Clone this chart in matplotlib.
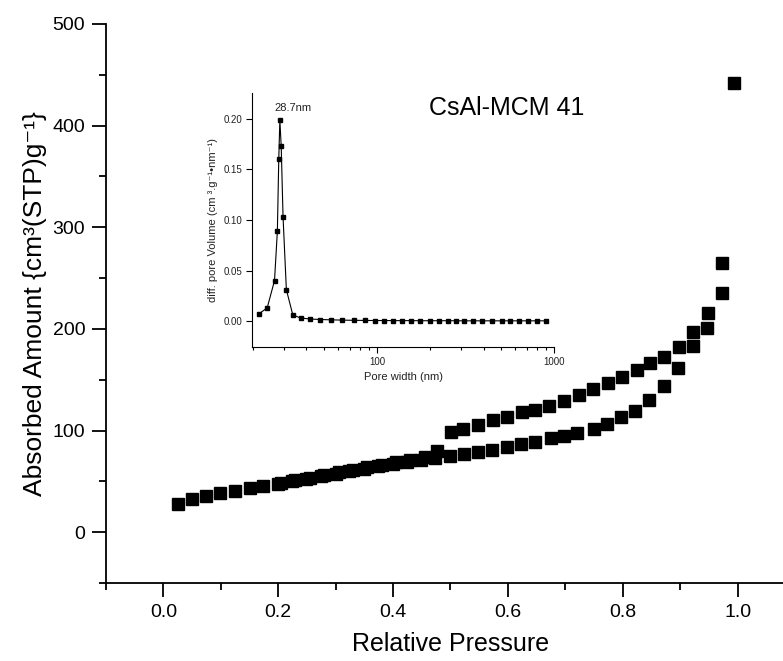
import matplotlib
matplotlib.use("Agg")
import matplotlib.pyplot as plt
from matplotlib.ticker import MultipleLocator, FixedLocator, NullFormatter

plt.rcParams['font.family'] = ['Liberation Sans', 'DejaVu Sans']

# isotherm - adsorption branch
ads_p = [0.025, 0.049, 0.074, 0.099, 0.125, 0.150, 0.174, 0.200, 0.224, 0.249,
         0.274, 0.300, 0.324, 0.350, 0.374, 0.399, 0.425, 0.449, 0.473, 0.499,
         0.523, 0.548, 0.573, 0.598, 0.622, 0.647, 0.675, 0.698, 0.721, 0.750,
         0.773, 0.797, 0.821, 0.846, 0.871, 0.896, 0.922, 0.947, 0.973, 0.993]
ads_v = [28.2, 32.5, 35.4, 38.4, 41.0, 43.3, 45.3, 47.6, 49.9, 52.2,
         54.8, 57.4, 60.4, 62.6, 65.0, 66.9, 69.2, 71.5, 73.0, 74.5,
         76.6, 78.5, 81.0, 84.2, 86.3, 88.6, 92.4, 94.7, 97.8, 102.0,
         106.6, 112.9, 119.4, 130.0, 143.7, 161.7, 183.0, 200.8, 235.0, 442.0]

# isotherm - desorption branch
des_p = [0.973, 0.949, 0.922, 0.898, 0.872, 0.848, 0.824, 0.798, 0.774, 0.748,
         0.723, 0.698, 0.672, 0.647, 0.624, 0.598, 0.574, 0.548, 0.522, 0.501,
         0.476, 0.455, 0.430, 0.405, 0.380, 0.355, 0.330, 0.305, 0.280, 0.255,
         0.230, 0.205]
des_v = [264.5, 215.6, 196.9, 182.4, 172.6, 166.0, 159.4, 152.9, 146.7, 140.7,
         134.8, 129.1, 124.5, 120.6, 117.8, 113.5, 110.2, 105.6, 101.5, 98.5,
         80.0, 73.5, 71.0, 68.6, 66.4, 64.0, 61.6, 58.8, 56.2, 53.6,
         51.2, 48.8]

# pore size distribution (inset)
pore_w = [21.5, 24.0, 26.4, 27.4, 27.9, 28.3, 28.8, 29.5, 30.8, 33.5,
          37.1, 42.0, 47.8, 55.2, 63.7, 74.5, 85.2, 97, 110, 124,
          138, 156, 175, 200, 225, 253, 279, 311, 350, 394,
          448, 507, 564, 637, 713, 798, 901]
pore_dv = [0.007, 0.013, 0.040, 0.089, 0.160, 0.199, 0.173, 0.103, 0.031, 0.006,
           0.003, 0.002, 0.0015, 0.0012, 0.0009, 0.0007, 0.0006, 0.0005, 0.0005, 0.0004,
           0.0004, 0.0004, 0.0003, 0.0003, 0.0003, 0.0003, 0.0003, 0.0002, 0.0002, 0.0002,
           0.0002, 0.0002, 0.0002, 0.0002, 0.0002, 0.0002, 0.0002]

fig = plt.figure(figsize=(7.83, 6.61), dpi=100)

# main plot (right edge runs past the figure like in the original)
ax = fig.add_axes([106 / 783, 78 / 661, 689 / 783, 559 / 661])
ax.plot(ads_p, ads_v, 's', color='black', ms=8, mec='black')
ax.plot(des_p, des_v, 's', color='black', ms=8, mec='black')
ax.set_xlim(-0.1, 1.1)
ax.set_ylim(-50, 500)
ax.xaxis.set_major_locator(FixedLocator([0.0, 0.2, 0.4, 0.6, 0.8, 1.0]))
ax.xaxis.set_minor_locator(FixedLocator([-0.1, 0.1, 0.3, 0.5, 0.7, 0.9]))
ax.yaxis.set_major_locator(MultipleLocator(100))
ax.yaxis.set_minor_locator(FixedLocator([-50, 50, 150, 250, 350, 450]))
ax.xaxis.set_major_formatter(plt.FuncFormatter(lambda v, p: f"{v:.1f}"))
ax.tick_params(which='major', direction='out', length=10, width=1.3, labelsize=14, pad=5)
ax.tick_params(which='minor', direction='out', length=5, width=1.3)
for s in ['top', 'right']:
    ax.spines[s].set_visible(False)
for s in ['left', 'bottom']:
    ax.spines[s].set_linewidth(1.3)
ax.set_xlabel("Relative Pressure", fontsize=18, labelpad=8)
ax.set_ylabel("Absorbed Amount {cm³(STP)g⁻¹}", fontsize=19, labelpad=4)

fig.text(429 / 783, 1 - 108 / 661, "CsAl-MCM 41", fontsize=18, va='center', ha='left')

# inset
axi = fig.add_axes([252 / 783, 314 / 661, 302 / 783, 254 / 661])
axi.plot(pore_w, pore_dv, '-s', color='black', lw=0.8, ms=3.5)
axi.set_xscale('log')
axi.set_xlim(19.7, 1000)
axi.set_ylim(-0.0257, 0.2257)
axi.yaxis.set_major_locator(MultipleLocator(0.05))
axi.xaxis.set_minor_formatter(NullFormatter())
axi.xaxis.set_major_formatter(plt.FuncFormatter(lambda v, p: f"{v:g}"))
axi.tick_params(which='major', direction='out', length=4, width=0.8, labelsize=7, pad=3, labelcolor='#222222')
axi.tick_params(which='minor', direction='out', length=2, width=0.8)
for s in ['top', 'right']:
    axi.spines[s].set_visible(False)
for s in ['left', 'bottom']:
    axi.spines[s].set_linewidth(0.8)
axi.set_xlabel("Pore width (nm)", fontsize=8, color='#222222', labelpad=4)
axi.set_ylabel("diff. pore Volume (cm ³.g⁻¹•nm⁻¹)", fontsize=8, color='#222222', labelpad=4)
axi.text(33.5, 0.211, "28.7nm", fontsize=8, ha='center', va='center', color='#222222')

fig.savefig("out.png", dpi=100)
